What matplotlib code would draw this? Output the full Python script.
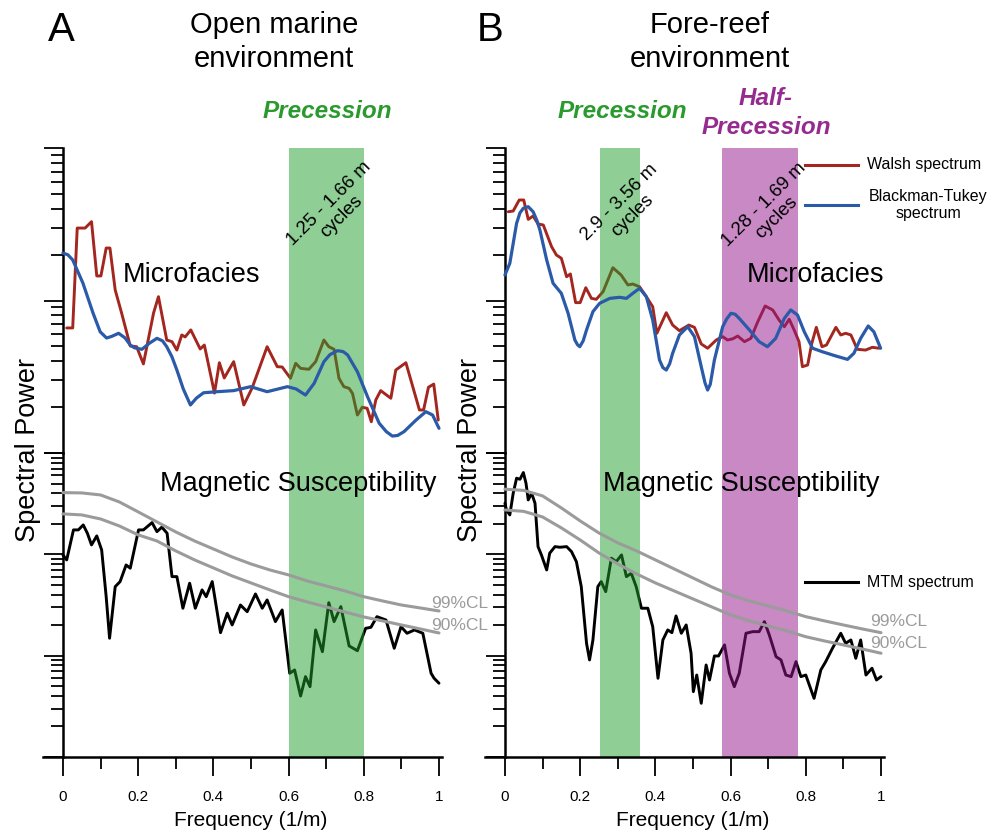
import numpy as np
import matplotlib
matplotlib.use("Agg")
import matplotlib.pyplot as plt
from matplotlib.lines import Line2D
from matplotlib.ticker import LogLocator, NullFormatter, MultipleLocator

plt.rcParams['font.family'] = ['Liberation Sans', 'DejaVu Sans']

W, H = 994, 833

# values: frequency (1/m) and log10 spectral power
# ---- A: open marine environment ----
a_walsh_f = [0.01, 0.026, 0.038, 0.059, 0.076, 0.09, 0.101, 0.115, 0.125, 0.139, 0.156, 0.179,
             0.196, 0.214, 0.241, 0.254, 0.276, 0.29, 0.303, 0.316, 0.325, 0.34, 0.365, 0.376,
             0.403, 0.416, 0.429, 0.454, 0.481, 0.503, 0.543, 0.57, 0.583, 0.605, 0.619, 0.632,
             0.654, 0.672, 0.694, 0.707, 0.721, 0.734, 0.747, 0.761, 0.77, 0.783, 0.796, 0.809,
             0.82, 0.832, 0.845, 0.872, 0.885, 0.912, 0.948, 0.959, 0.972, 0.986, 0.998]
a_walsh_lp = [0.82, 0.82, 1.475, 1.475, 1.517, 1.161, 1.161, 1.344, 1.344, 1.069, 0.918, 0.702,
              0.697, 0.584, 0.918, 1.025, 0.741, 0.730, 0.675, 0.774, 0.761, 0.807, 0.682, 0.708,
              0.393, 0.592, 0.492, 0.599, 0.315, 0.426, 0.697, 0.566, 0.564, 0.49, 0.588, 0.555,
              0.549, 0.599, 0.741, 0.697, 0.680, 0.490, 0.435, 0.424, 0.391, 0.249, 0.300, 0.293,
              0.205, 0.348, 0.409, 0.359, 0.544, 0.592, 0.282, 0.282, 0.431, 0.452, 0.216]

a_bt_f = [0, 0.013, 0.026, 0.053, 0.08, 0.099, 0.116, 0.13, 0.148, 0.165, 0.179, 0.19, 0.21,
          0.23, 0.25, 0.265, 0.276, 0.29, 0.303, 0.32, 0.339, 0.355, 0.374, 0.41, 0.454, 0.499,
          0.543, 0.597, 0.62, 0.645, 0.668, 0.694, 0.71, 0.73, 0.745, 0.757, 0.783, 0.81, 0.841,
          0.86, 0.876, 0.89, 0.907, 0.939, 0.965, 0.983, 1.0]
a_bt_lp = [1.311, 1.30, 1.266, 1.115, 0.918, 0.795, 0.754, 0.765, 0.785, 0.755, 0.708, 0.69,
           0.680, 0.72, 0.752, 0.735, 0.697, 0.63, 0.544, 0.42, 0.315, 0.36, 0.395, 0.402,
           0.409, 0.435, 0.402, 0.435, 0.42, 0.380, 0.457, 0.599, 0.645, 0.671, 0.665, 0.643,
           0.533, 0.369, 0.195, 0.14, 0.111, 0.115, 0.140, 0.216, 0.271, 0.249, 0.162]

a_mtm_f = [0, 0.01, 0.028, 0.041, 0.054, 0.065, 0.076, 0.09, 0.103, 0.115, 0.124, 0.139, 0.152,
           0.168, 0.179, 0.201, 0.214, 0.237, 0.25, 0.263, 0.277, 0.29, 0.303, 0.319, 0.337,
           0.352, 0.37, 0.381, 0.397, 0.419, 0.437, 0.45, 0.472, 0.49, 0.512, 0.53, 0.543,
           0.565, 0.583, 0.603, 0.616, 0.632, 0.645, 0.657, 0.672, 0.69, 0.707, 0.721, 0.739,
           0.761, 0.783, 0.805, 0.819, 0.835, 0.859, 0.881, 0.899, 0.915, 0.935, 0.957, 0.979,
           0.987, 1.0]
a_mtm_lp = [1.994, 1.945, 2.241, 2.241, 2.290, 2.208, 2.093, 2.182, 2.043, 1.582, 1.172, 1.681,
            1.731, 1.895, 1.863, 2.241, 2.241, 2.313, 2.224, 2.268, 2.208, 1.780, 1.780, 1.468,
            1.715, 1.468, 1.649, 1.582, 1.731, 1.227, 1.419, 1.303, 1.500, 1.434, 1.609, 1.468,
            1.550, 1.336, 1.451, 0.826, 0.859, 0.602, 0.793, 0.694, 1.254, 1.039, 1.523, 1.336,
            1.484, 1.096, 1.049, 1.270, 1.280, 1.385, 1.352, 1.073, 1.286, 1.221, 1.254, 1.221,
            0.826, 0.777, 0.728]

cl_f = [0, 0.05, 0.1, 0.15, 0.2, 0.25, 0.3, 0.35, 0.4, 0.45, 0.5, 0.55, 0.6, 0.65, 0.7,
        0.75, 0.8, 0.85, 0.9, 0.95, 1.0]
a_cl99_lp = [2.609, 2.606, 2.586, 2.517, 2.419, 2.320, 2.221, 2.132, 2.053, 1.974, 1.905,
             1.846, 1.797, 1.737, 1.688, 1.639, 1.582, 1.540, 1.500, 1.471, 1.441]
a_cl90_lp = [2.399, 2.389, 2.349, 2.280, 2.192, 2.132, 2.034, 1.945, 1.866, 1.787, 1.718,
             1.649, 1.582, 1.530, 1.481, 1.431, 1.382, 1.343, 1.303, 1.264, 1.224]

# ---- B: fore-reef environment ----
b_walsh_f = [0.009, 0.022, 0.038, 0.05, 0.062, 0.075, 0.088, 0.102, 0.124, 0.137, 0.15, 0.164,
             0.174, 0.188, 0.2, 0.215, 0.23, 0.243, 0.261, 0.287, 0.309, 0.327, 0.34, 0.358,
             0.376, 0.393, 0.404, 0.429, 0.446, 0.464, 0.489, 0.504, 0.522, 0.539, 0.562,
             0.579, 0.592, 0.606, 0.619, 0.637, 0.654, 0.672, 0.692, 0.712, 0.729, 0.743,
             0.756, 0.769, 0.782, 0.791, 0.805, 0.816, 0.828, 0.843, 0.855, 0.88, 0.893,
             0.906, 0.92, 0.937, 0.959, 0.977, 0.995]
b_walsh_lp = [1.582, 1.587, 1.659, 1.659, 1.532, 1.554, 1.502, 1.495, 1.353, 1.298, 1.277,
              1.156, 1.174, 0.986, 0.986, 1.084, 1.014, 1.008, 1.058, 1.215, 1.167, 1.102,
              1.108, 1.090, 1.025, 0.959, 0.785, 0.920, 0.839, 0.802, 0.839, 0.824, 0.715,
              0.687, 0.741, 0.763, 0.741, 0.749, 0.767, 0.730, 0.752, 0.859, 0.964, 0.938,
              0.872, 0.828, 0.877, 0.807, 0.730, 0.566, 0.577, 0.719, 0.824, 0.697, 0.708,
              0.824, 0.774, 0.785, 0.774, 0.680, 0.675, 0.693, 0.687]

b_bt_f = [0, 0.013, 0.031, 0.04, 0.049, 0.062, 0.075, 0.085, 0.093, 0.111, 0.128, 0.15, 0.168,
          0.186, 0.193, 0.199, 0.208, 0.217, 0.234, 0.252, 0.279, 0.305, 0.323, 0.34, 0.358,
          0.376, 0.393, 0.411, 0.42, 0.429, 0.438, 0.446, 0.464, 0.486, 0.504, 0.522, 0.532,
          0.539, 0.546, 0.557, 0.579, 0.59, 0.601, 0.612, 0.623, 0.65, 0.676, 0.698, 0.72,
          0.743, 0.76, 0.778, 0.796, 0.818, 0.844, 0.88, 0.911, 0.928, 0.946, 0.966, 0.981,
          0.999]
b_bt_lp = [1.167, 1.244, 1.506, 1.575, 1.605, 1.615, 1.582, 1.525, 1.462, 1.266, 1.113, 1.047,
           0.916, 0.741, 0.71, 0.697, 0.735, 0.807, 0.927, 0.982, 1.014, 1.021, 1.014, 1.047,
           1.080, 1.025, 0.872, 0.610, 0.56, 0.544, 0.585, 0.654, 0.774, 0.828, 0.763, 0.566,
           0.46, 0.413, 0.45, 0.610, 0.828, 0.88, 0.916, 0.91, 0.883, 0.807, 0.730, 0.697,
           0.752, 0.883, 0.938, 0.905, 0.795, 0.687, 0.664, 0.636, 0.614, 0.654, 0.752, 0.833,
           0.795, 0.687]

b_mtm_f = [0, 0.004, 0.013, 0.022, 0.031, 0.04, 0.049, 0.056, 0.062, 0.071, 0.08, 0.088, 0.097,
           0.111, 0.119, 0.133, 0.146, 0.164, 0.177, 0.19, 0.203, 0.217, 0.225, 0.234, 0.247,
           0.256, 0.268, 0.283, 0.296, 0.31, 0.323, 0.336, 0.349, 0.363, 0.38, 0.393, 0.407,
           0.42, 0.433, 0.444, 0.455, 0.469, 0.482, 0.495, 0.501, 0.51, 0.522, 0.535, 0.544,
           0.557, 0.568, 0.584, 0.597, 0.61, 0.623, 0.641, 0.659, 0.676, 0.69, 0.703, 0.721,
           0.734, 0.747, 0.761, 0.774, 0.787, 0.8, 0.822, 0.84, 0.853, 0.871, 0.893, 0.906,
           0.92, 0.933, 0.946, 0.96, 0.976, 0.988, 1.0]
b_mtm_lp = [2.504, 2.438, 2.389, 2.603, 2.751, 2.741, 2.807, 2.702, 2.537, 2.603, 2.504, 2.076,
            1.994, 1.846, 2.011, 2.076, 2.070, 2.076, 2.027, 1.928, 1.681, 1.122, 0.958, 1.155,
            1.681, 1.731, 1.632, 1.962, 1.928, 1.994, 1.780, 1.813, 1.681, 1.468, 1.468, 1.286,
            0.777, 1.155, 1.254, 1.227, 1.392, 1.221, 1.303, 1.024, 0.645, 0.809, 0.530, 0.908,
            0.760, 0.997, 0.997, 1.106, 0.826, 0.694, 0.826, 1.221, 1.237, 1.237, 1.336, 1.204,
            0.990, 0.958, 0.809, 0.793, 0.941, 0.793, 0.809, 0.579, 0.859, 0.941, 1.073, 1.221,
            1.122, 1.155, 0.974, 1.155, 0.809, 0.876, 0.760, 0.793]

b_cl99_lp = [2.643, 2.631, 2.577, 2.458, 2.330, 2.211, 2.113, 2.034, 1.945, 1.856, 1.767,
             1.678, 1.599, 1.540, 1.491, 1.441, 1.385, 1.343, 1.303, 1.264, 1.227]
b_cl90_lp = [2.438, 2.424, 2.369, 2.261, 2.142, 2.014, 1.905, 1.807, 1.718, 1.639, 1.560,
             1.481, 1.402, 1.343, 1.293, 1.244, 1.187, 1.145, 1.106, 1.066, 1.024]

a_bands = [(0.6, 0.8, '#20a02c')]
b_bands = [(0.253, 0.36, '#20a02c'), (0.577, 0.78, '#93158b')]

RED = '#a3271f'
BLUE = '#2a5aa8'
GRAY = '#9b9b9b'


def px(x, y):
    return x / W, 1 - y / H


def setup_axes(left):
    up = fig.add_axes([left / W, 1 - 453 / H, 399 / W, 305 / H])
    lo = fig.add_axes([left / W, 1 - 757 / H, 399 / W, 304 / H])
    for ax in (up, lo):
        ax.set_xlim(-0.053, 1.008)
        ax.set_yscale('log')
        ax.patch.set_alpha(0)
        ax.spines['right'].set_visible(False)
        ax.spines['top'].set_visible(False)
        ax.spines['left'].set_position(('data', 0))
        ax.spines['left'].set_linewidth(1.8)
        ax.yaxis.set_major_locator(LogLocator(base=10, numticks=10))
        ax.yaxis.set_minor_locator(LogLocator(base=10, subs=np.arange(2, 10), numticks=30))
        ax.yaxis.set_minor_formatter(NullFormatter())
        ax.tick_params(axis='y', which='major', direction='out', length=14, width=1.3,
                       labelleft=False)
        ax.tick_params(axis='y', which='minor', direction='out', length=8.5, width=1.3,
                       labelleft=False)
    up.set_ylim(1, 100)
    lo.set_ylim(1, 1000)
    up.spines['bottom'].set_visible(False)
    up.tick_params(axis='x', which='both', bottom=False, labelbottom=False)
    lo.spines['bottom'].set_linewidth(1.8)
    lo.set_xticks([0, 0.2, 0.4, 0.6, 0.8, 1.0])
    lo.set_xticklabels(['0', '0.2', '0.4', '0.6', '0.8', '1'])
    lo.xaxis.set_minor_locator(MultipleLocator(0.1))
    lo.tick_params(axis='x', which='major', direction='out', length=14, width=1.3,
                   labelsize=11, pad=10)
    lo.tick_params(axis='x', which='minor', direction='out', length=8.5, width=1.3)
    return up, lo


def draw_panel(up, lo, walsh, bt, mtm, cl99, cl90, bands):
    kw = dict(solid_joinstyle='round', solid_capstyle='round')
    up.plot(walsh[0], 10 ** np.array(walsh[1]), color=RED, lw=2.1, zorder=1, **kw)
    up.plot(bt[0], 10 ** np.array(bt[1]), color=BLUE, lw=2.3, zorder=3, **kw)
    lo.plot(mtm[0], 10 ** np.array(mtm[1]), color='black', lw=2.1, zorder=1, **kw)
    lo.plot(cl_f, 10 ** np.array(cl99), color=GRAY, lw=2.2, zorder=3, **kw)
    lo.plot(cl_f, 10 ** np.array(cl90), color=GRAY, lw=2.2, zorder=3, **kw)
    for x0, x1, c in bands:
        for ax in (up, lo):
            ax.axvspan(x0, x1, color=c, alpha=0.5, lw=0, zorder=2)


fig = plt.figure(figsize=(W / 100, H / 100), dpi=100)

a_up, a_lo = setup_axes(43)
b_up, b_lo = setup_axes(485)

draw_panel(a_up, a_lo, (a_walsh_f, a_walsh_lp), (a_bt_f, a_bt_lp), (a_mtm_f, a_mtm_lp),
           a_cl99_lp, a_cl90_lp, a_bands)
draw_panel(b_up, b_lo, (b_walsh_f, b_walsh_lp), (b_bt_f, b_bt_lp), (b_mtm_f, b_mtm_lp),
           b_cl99_lp, b_cl90_lp, b_bands)

# headings
fig.text(*px(61, 30), 'A', fontsize=29, ha='center', va='center')
fig.text(*px(490, 30), 'B', fontsize=29, ha='center', va='center')
fig.text(*px(274, 42), 'Open marine\nenvironment', fontsize=21, ha='center', va='center',
         linespacing=1.28)
fig.text(*px(710, 42), 'Fore-reef\nenvironment', fontsize=21, ha='center', va='center',
         linespacing=1.28)
fig.text(*px(327, 112), 'Precession', fontsize=17.5, ha='center', va='center',
         color='#2b9a2e', fontweight='bold', fontstyle='italic')
fig.text(*px(622, 112), 'Precession', fontsize=17.5, ha='center', va='center',
         color='#2b9a2e', fontweight='bold', fontstyle='italic')
fig.text(*px(766, 113), 'Half-\nPrecession', fontsize=17.5, ha='center', va='center',
         color='#952a8f', fontweight='bold', fontstyle='italic', linespacing=1.3)

# cycle annotations
for (x, y), s in [((335, 210), '1.25 - 1.66 m\ncycles'),
                  ((626, 209), '2.9 - 3.56 m\ncycles'),
                  ((770, 211), '1.28 - 1.69 m\ncycles')]:
    fig.text(*px(x, y), s, fontsize=13.5, ha='center', va='center', rotation=45,
             multialignment='center', linespacing=1.05, zorder=5)

# series labels
fig.text(*px(123, 275), 'Microfacies', fontsize=19.5, ha='left', va='center', zorder=5)
fig.text(*px(747, 275), 'Microfacies', fontsize=19.5, ha='left', va='center', zorder=5)
fig.text(*px(160, 484), 'Magnetic Susceptibility', fontsize=19.5, ha='left', va='center',
         zorder=5)
fig.text(*px(603, 484), 'Magnetic Susceptibility', fontsize=19.5, ha='left', va='center',
         zorder=5)

# axis labels
for x in (28, 470):
    fig.text(*px(x, 450), 'Spectral Power', fontsize=19.5, rotation=90, ha='center',
             va='center')
for x in (251, 693):
    fig.text(*px(x, 821), 'Frequency (1/m)', fontsize=15, ha='center', va='center')

# confidence level labels
fig.text(*px(431, 603), '99%CL', fontsize=12.5, color=GRAY, ha='left', va='center')
fig.text(*px(431, 625), '90%CL', fontsize=12.5, color=GRAY, ha='left', va='center')
fig.text(*px(870, 621), '99%CL', fontsize=12.5, color=GRAY, ha='left', va='center')
fig.text(*px(870, 643), '90%CL', fontsize=12.5, color=GRAY, ha='left', va='center')

# legends
for y, c in [(165, RED), (205, BLUE), (582, 'black')]:
    x0, y0 = px(805, y)
    x1, _ = px(858, y)
    fig.add_artist(Line2D([x0, x1], [y0, y0], color=c, lw=2.2))
fig.text(*px(867, 165), 'Walsh spectrum', fontsize=11.5, ha='left', va='center')
fig.text(*px(928, 205), 'Blackman-Tukey\nspectrum', fontsize=11.5, ha='center', va='center',
         multialignment='center', linespacing=1.15)
fig.text(*px(867, 582), 'MTM spectrum', fontsize=11.5, ha='left', va='center')

fig.savefig('out.png', dpi=100)
